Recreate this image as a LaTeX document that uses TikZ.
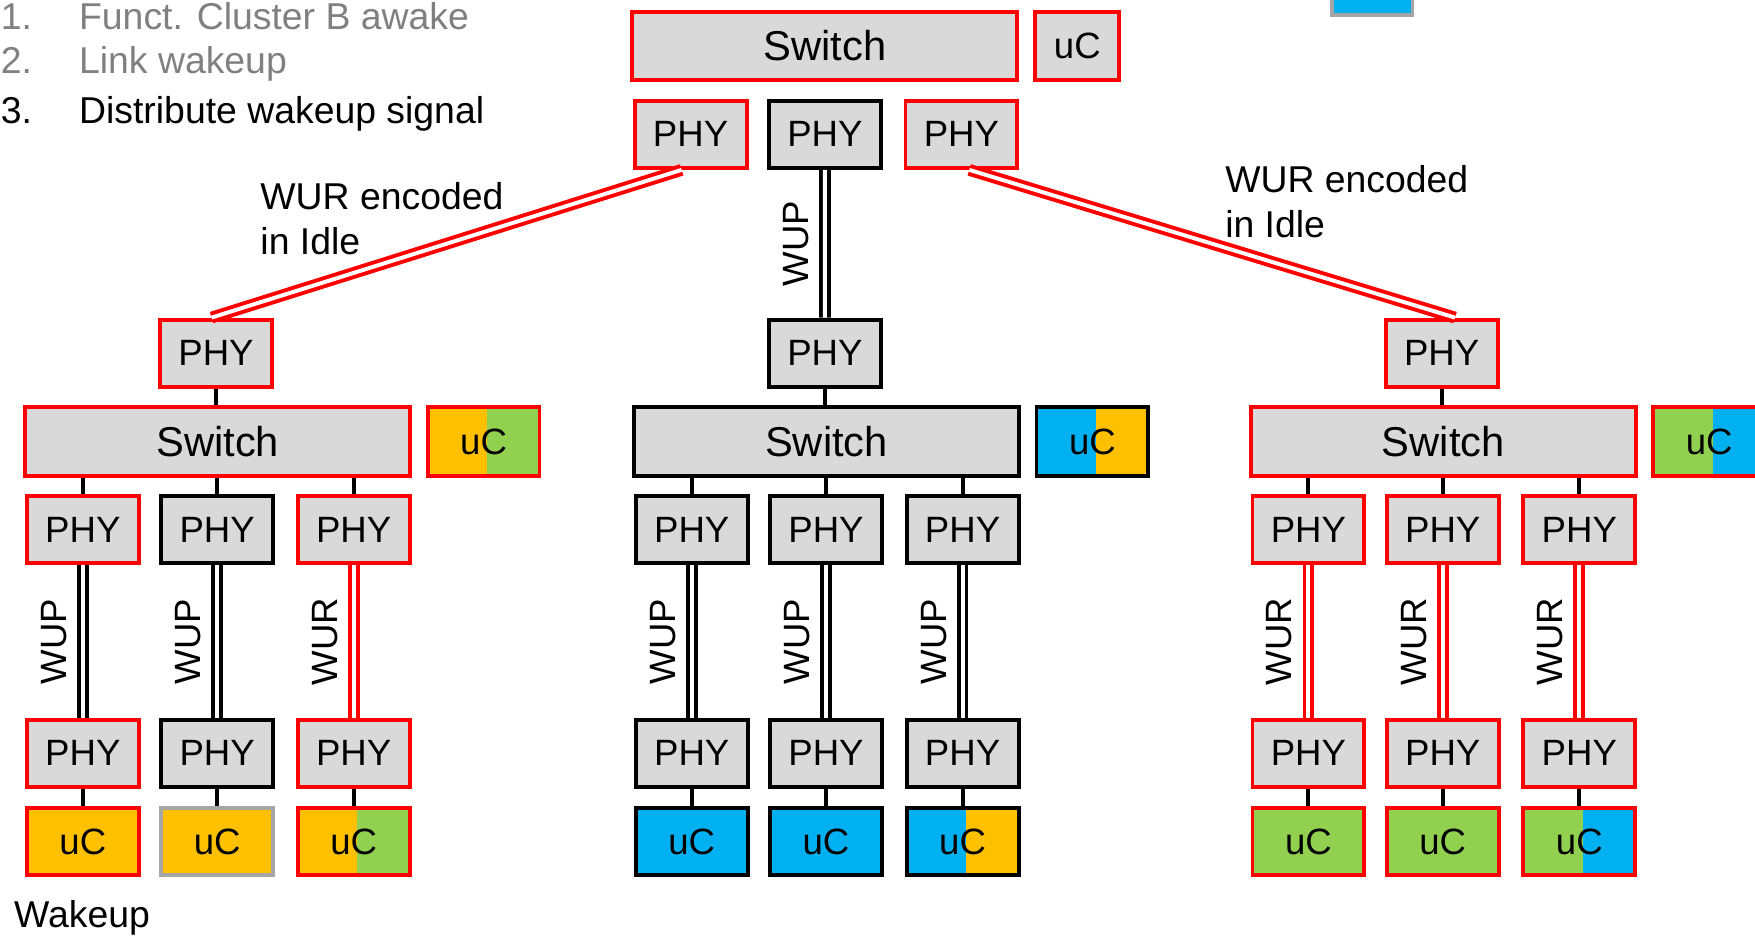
\documentclass[tikz,border=0pt]{standalone}
\usepackage{fontspec}
\setmainfont{Liberation Sans}
\usepackage{xcolor}
\definecolor{boxgray}{RGB}{217,217,217}
\definecolor{textgray}{RGB}{128,128,128}
\definecolor{wakered}{RGB}{255,0,0}
\definecolor{ucorange}{RGB}{255,192,0}
\definecolor{ucgreen}{RGB}{146,208,80}
\definecolor{ucblue}{RGB}{0,176,240}
\definecolor{edgegray}{RGB}{166,166,166}
\usepackage{tikz}
\usetikzlibrary{positioning}
\newcommand{\widthphy}{1.00cm}
\newcommand{\widthswitch}{3.44cm}
\newcommand{\heightbox}{0.60cm}
\tikzset{
    common/.style={draw, rectangle, line width=1pt, inner sep=0pt, minimum height=\heightbox, font=\fontsize{9.3}{11}\selectfont},
    phy/.style={common, fill=boxgray, minimum width=\widthphy},
    switch/.style={common, fill=boxgray, minimum width=\widthswitch, minimum height=0.61cm, font=\fontsize{10.6}{12}\selectfont},
    uc/.style 2 args={common, minimum width=\widthphy, fill=#1,
        path picture={
            \fill[#2] ([xshift=0.03cm]path picture bounding box.north) rectangle (path picture bounding box.south east);
        }
    },
    wire/.style={line width=1pt},
    link/.style={line width=1pt, double=white, double distance=1pt},
    sig/.style={rotate=90, anchor=south, inner sep=3.6pt, font=\fontsize{9.3}{11}\selectfont},
    note/.style={anchor=base west, inner sep=0pt, align=left, font=\fontsize{9.5}{11.4}\selectfont}
}

\begin{document}
\begin{tikzpicture}
    \useasboundingbox (0,0) rectangle (15.68,-8.36);

    % steps
    \foreach \y/\n/\txt/\col [count=\k] in {0.26/1./Funct. Cluster B awake/textgray, 0.66/2./Link wakeup/textgray, 1.10/3./Distribute wakeup signal/black} {
        \node[note, text=\col] (num\k) at (0,-\y) {\n};
        \node[note, text=\col] (step\k) at (0.70,-\y) {\txt};
    }

    % central switch
    \node[switch, draw=wakered] (sw0) at (7.37,-0.41) {Switch};
    \node[common, fill=boxgray, draw=wakered, minimum width=0.75cm, minimum height=0.61cm] (uc0) at (9.625,-0.41) {uC};
    \node[phy, draw=wakered] (p01) at (6.17,-1.20) {PHY};
    \node[phy] (p02) at (7.37,-1.20) {PHY};
    \node[phy, draw=wakered] (p03) at (8.59,-1.20) {PHY};
    \node[common, fill=ucblue, draw=edgegray, minimum width=0.72cm] (key) at (12.26,0.17) {};

    % cluster switches
    \foreach \c/\x/\bc/\fa/\fb in {A/1.94/wakered/ucorange/ucgreen, B/7.38/black/ucblue/ucorange, C/12.89/wakered/ucgreen/ucblue} {
        \node[phy, draw=\bc] (p\c) at (\x-0.01,-3.155) {PHY};
        \node[switch, draw=\bc] (sw\c) at (\x+0.005,-3.945) {Switch};
        \node[uc={\fa}{\fb}, draw=\bc, minimum height=0.61cm, right=0.12cm of sw\c] (uc\c) {uC};
        \draw[wire] (p\c.south) -- (p\c.south |- sw\c.north);
    }

    % end nodes
    \foreach \c/\x/\i/\bc/\lc/\lab/\ec/\fa/\fb in {
        A/0.74/1/wakered/black/WUP/wakered/ucorange/ucorange,
        A/1.94/2/black/black/WUP/edgegray/ucorange/ucorange,
        A/3.16/3/wakered/wakered/WUR/wakered/ucorange/ucgreen,
        B/6.18/1/black/black/WUP/black/ucblue/ucblue,
        B/7.38/2/black/black/WUP/black/ucblue/ucblue,
        B/8.60/3/black/black/WUP/black/ucblue/ucorange,
        C/11.69/1/wakered/wakered/WUR/wakered/ucgreen/ucgreen,
        C/12.89/2/wakered/wakered/WUR/wakered/ucgreen/ucgreen,
        C/14.11/3/wakered/wakered/WUR/wakered/ucgreen/ucblue} {
        \node[phy, draw=\bc] (p\c\i) at (\x,-4.73) {PHY};
        \node[phy, draw=\bc] (q\c\i) at (\x,-6.73) {PHY};
        \node[uc={\fa}{\fb}, draw=\ec] (u\c\i) at (\x,-7.52) {uC};
        \draw[wire] (p\c\i.north) -- (p\c\i.north |- sw\c.south);
        \draw[link, draw=\lc] (p\c\i) -- node[sig, pos=0.5] {\lab} (q\c\i);
        \draw[wire] (q\c\i) -- (u\c\i);
    }

    % uplinks
    \draw[link, draw=wakered] ([xshift=-0.08cm]p01.south) -- ([xshift=-0.04cm]pA.north);
    \draw[link, draw=wakered] ([xshift=0.07cm]p03.south) -- ([xshift=0.12cm]pC.north);
    \draw[link] (p02) -- node[sig, pos=0.5] {WUP} (pB);

    \node[note] (idleA) at (2.32,-2.27) {WUR encoded\\in Idle};
    \node[note] (idleC) at (10.94,-2.12) {WUR encoded\\in Idle};
    \node[note] (wake) at (0.12,-8.29) {Wakeup};
\end{tikzpicture}
\end{document}
